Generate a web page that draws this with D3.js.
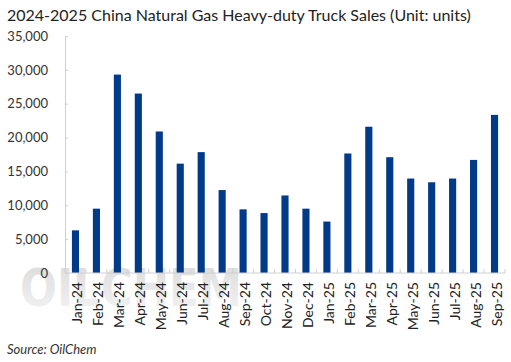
<!DOCTYPE html>
<html><head><meta charset="utf-8">
<script src="https://cdn.jsdelivr.net/npm/d3@7"></script>
<style>html,body{margin:0;padding:0;background:#fff;}svg{display:block;}</style>
</head><body>
<svg id="chart" width="511" height="362"></svg>
<script>
const categories = ["Jan-24","Feb-24","Mar-24","Apr-24","May-24","Jun-24","Jul-24","Aug-24","Sep-24","Oct-24","Nov-24","Dec-24","Jan-25","Feb-25","Mar-25","Apr-25","May-25","Jun-25","Jul-25","Aug-25","Sep-25"];
const sales = [6300,9500,29300,26500,20900,16150,17850,12250,9400,8850,11450,9500,7600,17650,21600,17100,13950,13400,13950,16700,23350];
const yTicks = [0,5000,10000,15000,20000,25000,30000,35000];
const title = "2024-2025 China Natural Gas Heavy-duty Truck Sales (Unit: units)";
const source = "Source: OilChem";

const svg = d3.select("#chart");
const font = "Lato, 'Open Sans', sans-serif";
const m = {left:65, right:6, top:36, bottom:89};
const W = 511, H = 362;
const x = d3.scaleBand().domain(categories).range([m.left, W - m.right]).paddingInner(0.66).paddingOuter(0.33);
const y = d3.scaleLinear().domain([0,35000]).range([H - m.bottom, m.top]);

// watermark
const wg = svg.append("defs").append("linearGradient").attr("id","wm").attr("x1","0").attr("x2","0").attr("y1","0").attr("y2","1");
wg.append("stop").attr("offset","0").attr("stop-color","#dadada");
wg.append("stop").attr("offset","1").attr("stop-color","#f5f5f5");
svg.append("text").attr("x",20).attr("y",306).attr("font-family","'DejaVu Sans', sans-serif").attr("font-weight","bold")
  .attr("font-size",52).attr("fill","url(#wm)").attr("textLength",222).attr("lengthAdjust","spacingAndGlyphs").text("OILCHEM");

// y axis
const yAxis = svg.append("g").attr("transform",`translate(${m.left},0)`)
  .call(d3.axisRight(y).tickValues(yTicks).tickSize(3).tickFormat(d3.format(",")));
yAxis.select(".domain").attr("stroke","#d0d0d0");
yAxis.selectAll(".tick line").attr("stroke","#d0d0d0");
yAxis.selectAll(".tick text").attr("x",-17).attr("text-anchor","end").attr("font-family",font).attr("font-size",13).attr("fill","#333");

// bars
svg.append("g").selectAll("rect").data(sales).join("rect")
  .attr("x",(d,i)=>x(categories[i])).attr("width",x.bandwidth())
  .attr("y",d=>y(d)).attr("height",d=>y(0)-y(d)).attr("fill","#023a8a");

// x axis
const step = x.step();
const xg = svg.append("g").attr("transform",`translate(0,${y(0)})`);
xg.append("line").attr("x1",m.left).attr("x2",W-m.right).attr("stroke","#d0d0d0");
xg.selectAll("line.tk").data(d3.range(categories.length+1)).join("line").attr("class","tk")
  .attr("x1",i=>m.left+i*step).attr("x2",i=>m.left+i*step).attr("y1",0).attr("y2",-4).attr("stroke","#d0d0d0");
xg.selectAll("text").data(categories).join("text")
  .attr("transform",d=>`translate(${x(d)+x.bandwidth()/2+7},9) rotate(-90)`)
  .attr("text-anchor","end").attr("font-family",font).attr("font-size",14).attr("fill","#222").text(d=>d);

// title & source
svg.append("text").attr("x",7).attr("y",21).attr("font-family",font).attr("font-size",16).attr("fill","#222").text(title);
svg.append("text").attr("x",7).attr("y",354).attr("font-family",font).attr("font-style","italic").attr("font-size",13).attr("fill","#333").text(source);
</script>
</body></html>
